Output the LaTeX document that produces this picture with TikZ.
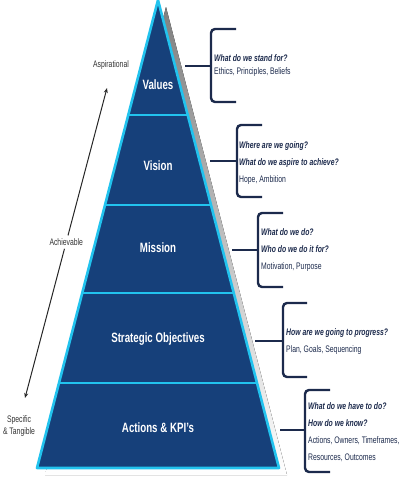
\documentclass[tikz,border=0pt]{standalone}
\usepackage{fontspec}
\setmainfont{Liberation Sans}[FakeStretch=0.72]
\usetikzlibrary{positioning, arrows.meta, calc}
\definecolor{navy}{HTML}{16407A}
\definecolor{cyanline}{HTML}{22C3EE}
\definecolor{shade}{HTML}{5C5C6C}
\definecolor{inkblue}{HTML}{1C2A4C}
\newcommand{\askq}[1]{\textbf{\textit{#1}}}

\begin{document}
\begin{tikzpicture}[
    x=1pt, y=-1pt,
    >=Stealth,
    level/.style={text=white, inner sep=0pt, font=\fontsize{13.5}{16}\selectfont\bfseries},
    query/.style={anchor=west, inner sep=0pt, align=left, text=inkblue, font=\fontsize{9.5}{17}\selectfont},
    brace/.style={draw=inkblue, line width=2.4pt, rounded corners=4pt},
    stem/.style={draw=inkblue, line width=2.4pt},
    side/.style={text=black!80, inner sep=1pt, align=center, font=\fontsize{9.5}{12}\selectfont},
    divider/.style={cyanline, line width=2.6pt},
    arr/.style={->, line width=1pt, black!85, >={Stealth[length=5pt, width=4pt]}},
]
\useasboundingbox (0,0) rectangle (400,480);

% ---- Pyramid ----
\coordinate (apex) at (158,0);
\coordinate (baseL) at (37,468);
\coordinate (baseR) at (279,468);
\fill[shade] ([shift={(8,7)}]apex) -- ([shift={(8,7)}]baseR) -- ([shift={(8,7)}]baseL) -- cycle;
\fill[navy] (apex) -- (baseR) -- (baseL) -- cycle;
\begin{scope}
  \clip (apex) -- (baseR) -- (baseL) -- cycle;
  \foreach \yy in {115,205,293,383}
    \draw[divider] (0,\yy) -- (400,\yy);
\end{scope}
\draw[divider, line join=round] (apex) -- (baseR) -- (baseL) -- cycle;

% ---- Levels ----
\node[level] (values) at (158,85) {Values};
\node[level] (vision) at (158,166) {Vision};
\node[level] (mission) at (158,248) {Mission};
\node[level] (strategic) at (158,339) {Strategic Objectives};
\node[level] (actions) at (158,428) {Actions \& KPI's};

% ---- Questions ----
\node[query, font=\fontsize{9.5}{13}\selectfont] (qvalues) at (214,66) {\askq{What do we stand for?}\\Ethics, Principles, Beliefs};
\draw[brace] (236,29) -- (211,29) -- (211,102) -- (236,102);
\draw[stem] (185,66) -- (211,66);

\node[query] (qvision) at (239,163) {\askq{Where are we going?}\\\askq{What do we aspire to achieve?}\\Hope, Ambition};
\draw[brace] (262,125) -- (237,125) -- (237,197) -- (262,197);
\draw[stem] (210,161) -- (237,161);

\node[query] (qmission) at (261,250) {\askq{What do we do?}\\\askq{Who do we do it for?}\\Motivation, Purpose};
\draw[brace] (283,213) -- (258,213) -- (258,287) -- (283,287);
\draw[stem] (232,250) -- (258,250);

\node[query] (qstrategic) at (286,342) {\askq{How are we going to progress?}\\Plan, Goals, Sequencing};
\draw[brace] (307,303) -- (283,303) -- (283,377) -- (307,377);
\draw[stem] (255,341) -- (283,341);

\node[query] (qactions) at (308,432) {\askq{What do we have to do?}\\\askq{How do we know?}\\Actions, Owners, Timeframes,\\Resources, Outcomes};
\draw[brace] (330,390) -- (305,390) -- (305,472) -- (330,472);
\draw[stem] (280,430) -- (305,430);

% ---- Scale on the left ----
\node[side] (aspir) at (111,65) {Aspirational};
\node[side] (specific) at (19,426) {Specific\\\& Tangible};
\coordinate (asptip) at (107,88);
\coordinate (spectip) at (25,398);
\path (asptip) -- node[side, pos=0.497, inner sep=3pt] (achv) {Achievable} (spectip);
\draw[arr] (achv) -- (asptip);
\draw[arr] (achv) -- (spectip);

\end{tikzpicture}
\end{document}
